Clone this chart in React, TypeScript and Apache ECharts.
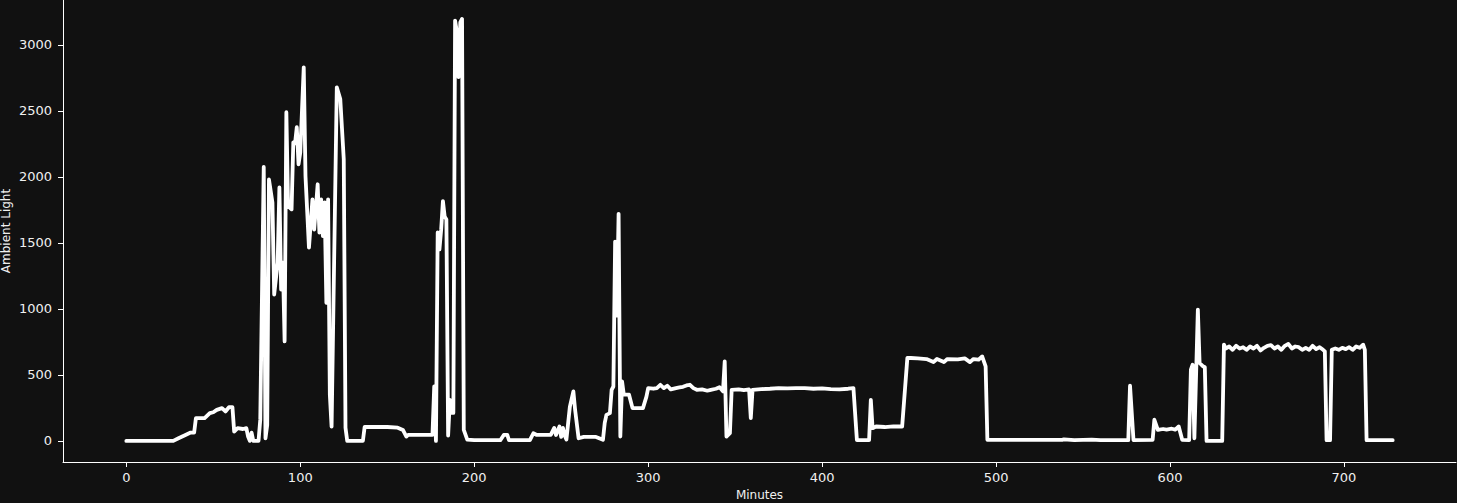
import React, { useEffect, useRef } from "react";
import * as echarts from "echarts";

const minutes = [
  0, 27, 30, 34, 37, 39, 40, 45, 48, 50, 52, 55, 57, 59, 61, 62, 64, 67, 69, 70, 71, 72, 73, 76, 77, 79, 80, 81,
  82, 84, 85, 87, 88, 89, 90, 91, 92, 93, 95, 96, 97, 98, 99, 100, 102, 103, 105, 107, 108, 110, 111, 112, 113,
  114, 115, 116, 117, 118, 121, 123, 125, 126, 127, 136, 137, 150, 156, 159, 161, 162, 175, 176, 177, 178, 179,
  180, 181, 182, 183, 184, 185, 186, 187, 188, 189, 190, 191, 192, 193, 194, 196, 200, 215, 217, 219, 220, 232,
  234, 236, 244, 246, 247, 249, 250, 251, 252, 253, 255, 257, 258, 260, 263, 270, 274, 275, 276, 278, 279, 280,
  281, 282, 283, 284, 285, 286, 289, 291, 297, 299, 300, 303, 305, 307, 309, 311, 313, 316, 318, 320, 322, 324,
  326, 328, 331, 334, 336, 339, 341, 343, 344, 345, 347, 348, 352, 355, 358, 359, 360, 365, 370, 375, 380, 385,
  390, 395, 400, 405, 410, 415, 418, 420, 427, 428, 429, 431, 436, 441, 446, 449, 451, 455, 460, 464, 466, 470,
  472, 478, 482, 485, 487, 490, 492, 494, 495, 538, 539, 545, 555, 560, 576, 577, 579, 590, 591, 593, 596, 598,
  601, 603, 605, 607, 611, 612, 613, 614, 616, 617, 619, 620, 621, 630, 631, 632, 634, 636, 638, 640, 642, 644,
  646, 648, 650, 652, 654, 656, 658, 660, 662, 664, 666, 668, 670, 672, 674, 676, 678, 680, 682, 684, 686, 688,
  689, 690, 692, 693, 695, 697, 699, 701, 703, 705, 707, 709, 711, 712, 713, 728,
];

const light = [
  0, 0, 20, 45, 63, 63, 172, 172, 210, 217, 235, 248, 223, 255, 255, 71, 96, 90, 96, 33, 0, 63, 0, 0, 159, 2075, 20, 120,
  1980, 1806, 1109, 1350, 1920, 1147, 1350, 754, 2490, 1779, 1754, 2262, 2254, 2376, 2095, 2185, 2830, 2006, 1464, 1830, 1600, 1944, 1577, 1830, 1551,
  1806, 1046, 1830, 350, 108, 2678, 2590, 2134, 100, 0, 0, 105, 105, 100, 83, 33, 45, 45, 45, 412, 0, 1579,
  1450, 1600, 1817, 1700, 1678, 40, 311, 212, 212, 3184, 3100, 2755, 3170, 3197, 83, 10, 5, 5, 45, 45, 5, 5,
  58, 45, 45, 98, 45, 109, 30, 98, 40, 10, 260, 375, 235, 20, 30, 30, 8, 134, 197, 210, 387, 412,
  1510, 950, 1720, 33, 450, 350, 350, 248, 248, 335, 400, 395, 400, 425, 400, 418, 390, 400, 405, 410, 420, 425,
  400, 387, 390, 380, 387, 395, 407, 375, 602, 33, 58, 387, 390, 385, 390, 172, 387, 392, 395, 400, 398, 400,
  400, 395, 398, 392, 390, 395, 400, 5, 5, 311, 96, 109, 105, 110, 109, 628, 628, 625, 620, 597, 620, 597,
  620, 618, 625, 597, 620, 615, 640, 564, 8, 8, 12, 5, 10, 5, 5, 418, 5, 8, 160, 83, 90, 85,
  92, 85, 109, 8, 5, 539, 577, 20, 995, 590, 564, 560, 0, 0, 729, 700, 715, 690, 720, 700, 710, 690,
  715, 700, 720, 685, 705, 720, 725, 700, 715, 690, 720, 735, 700, 715, 710, 690, 705, 690, 720, 695, 710, 690,
  678, 5, 5, 690, 700, 690, 705, 695, 710, 690, 715, 705, 729, 690, 5, 5,
];

const xTicks = [0, 100, 200, 300, 400, 500, 600, 700];
const yTicks = [0, 500, 1000, 1500, 2000, 2500, 3000];

export default function App() {
  const ref = useRef<HTMLDivElement>(null);
  useEffect(() => {
    if (!ref.current) return;
    const chart = echarts.init(ref.current, undefined, { renderer: "svg" });
    const font = "DejaVu Sans";
    const textColor = "#f0f0f0";
    chart.setOption({
      animation: false,
      backgroundColor: "#111111",
      textStyle: { fontFamily: font },
      grid: { left: 63, right: 1, top: 0, bottom: 41, containLabel: false, outerBoundsMode: "none" },
      xAxis: {
        type: "value",
        min: -36.4,
        max: 764.4,
        name: "Minutes",
        nameLocation: "middle",
        nameGap: 27,
        nameTextStyle: { color: textColor, fontSize: 12, fontFamily: font },
        axisLine: { show: true, onZero: false, lineStyle: { color: "#ffffff", width: 1 } },
        axisTick: { show: true, length: 5, lineStyle: { color: "#ffffff" }, customValues: xTicks },
        axisLabel: {
          color: textColor,
          fontSize: 13,
          fontFamily: font,
          margin: 9,
          customValues: xTicks,
          formatter: (v: number) => String(v),
        },
        splitLine: { show: false },
      },
      yAxis: {
        type: "value",
        min: -160,
        max: 3340,
        name: "Ambient Light",
        nameLocation: "middle",
        nameGap: 51,
        nameRotate: 90,
        nameMoveOverlap: false,
        nameTextStyle: { color: textColor, fontSize: 12, fontFamily: font },
        axisLine: { show: true, onZero: false, lineStyle: { color: "#ffffff", width: 1 } },
        axisTick: { show: true, length: 5, lineStyle: { color: "#ffffff" }, customValues: yTicks },
        axisLabel: {
          color: textColor,
          fontSize: 13,
          fontFamily: font,
          margin: 11,
          customValues: yTicks,
          formatter: (v: number) => String(v),
        },
        splitLine: { show: false },
      },
      series: [
        {
          type: "line",
          data: minutes.map((m, i) => [m, light[i]]),
          showSymbol: false,
          symbol: "none",
          lineStyle: { color: "#ffffff", width: 3.8, join: "round", cap: "round" },
        },
      ],
    });
    return () => chart.dispose();
  }, []);
  return (
    <div
      ref={ref}
      style={{ position: "fixed", left: 0, top: 0, width: 1457, height: 503, background: "#111111" }}
    />
  );
}
